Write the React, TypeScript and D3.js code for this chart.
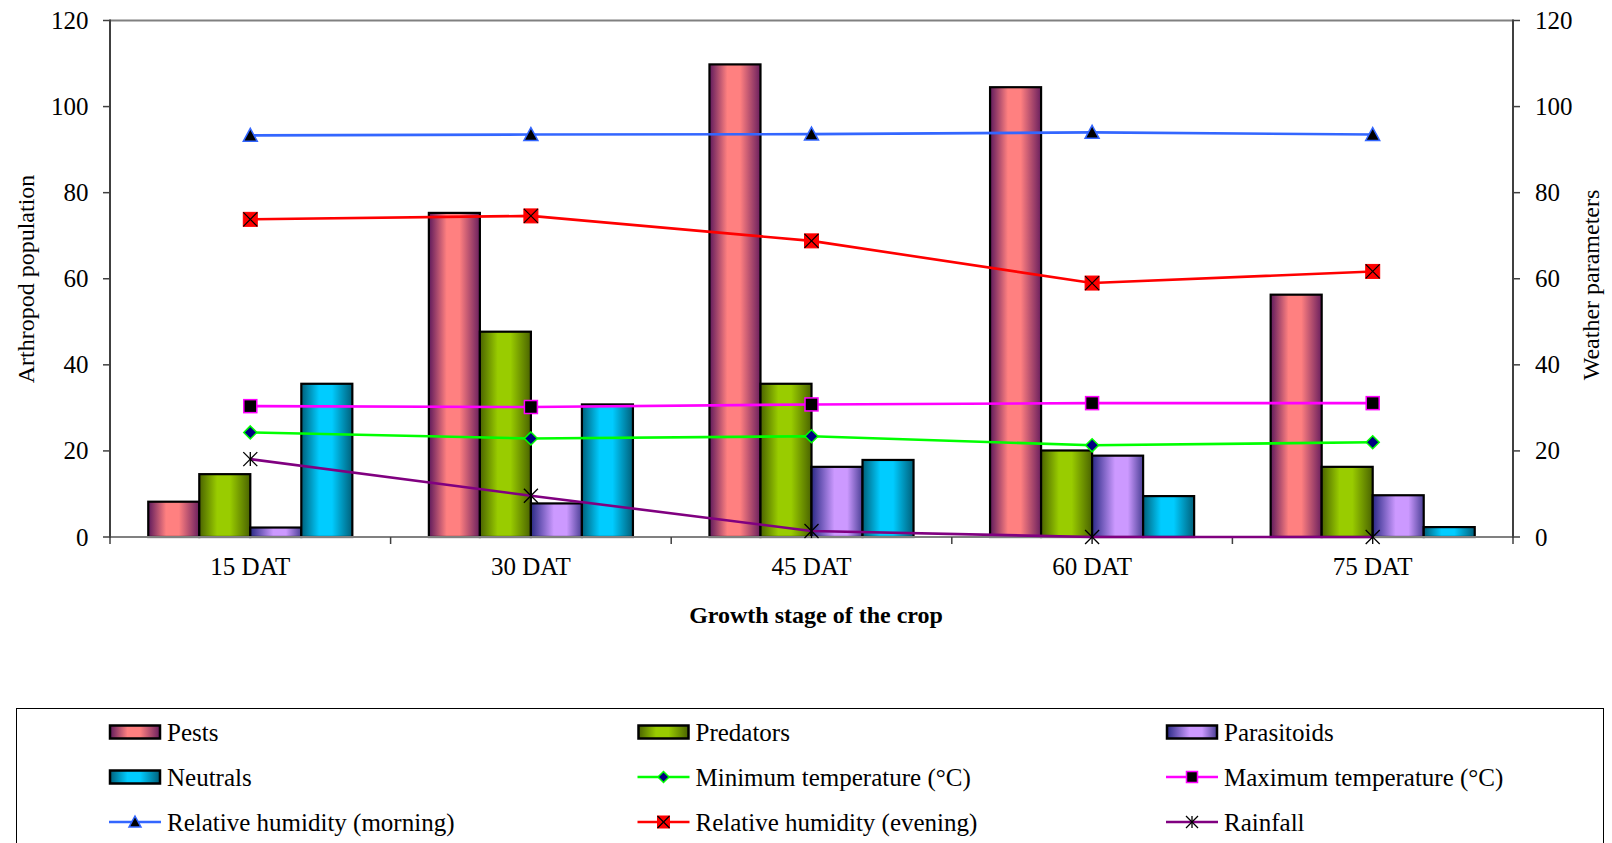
import React from "react";
import * as d3 from "d3";

const categories = ["15 DAT", "30 DAT", "45 DAT", "60 DAT", "75 DAT"];
const pests = [8.2, 75.3, 109.8, 104.5, 56.3];
const predators = [14.6, 47.7, 35.6, 20.1, 16.3];
const parasitoids = [2.2, 7.8, 16.3, 18.9, 9.7];
const neutrals = [35.6, 30.8, 17.9, 9.5, 2.3];
const minTemp = [24.3, 22.9, 23.4, 21.3, 22.0];
const maxTemp = [30.4, 30.2, 30.8, 31.1, 31.1];
const rhMorning = [93.3, 93.5, 93.6, 94.0, 93.5];
const rhEvening = [73.8, 74.6, 68.8, 59.0, 61.7];
const rainfall = [18.1, 9.6, 1.4, 0, 0];
const yTicks = [0, 20, 40, 60, 80, 100, 120];

const W = 1612;
const H = 843;
const L = 110;
const R = 1513;
const T = 20.5;
const B = 537;
const FONT = "'Liberation Serif', 'Times New Roman', serif";

type BarSeries = { name: string; values: number[]; id: string; stops: [number, string][] };
type LineSeries = { name: string; values: number[]; color: string; marker: string };

const barSeries: BarSeries[] = [
  { name: "Pests", values: pests, id: "gPests", stops: [[0, "#5e1a5c"], [0.35, "#ff8080"], [0.6, "#ff8080"], [1, "#6a1f5e"]] },
  { name: "Predators", values: predators, id: "gPred", stops: [[0, "#4a6300"], [0.35, "#99cc00"], [0.6, "#99cc00"], [1, "#4a6300"]] },
  { name: "Parasitoids", values: parasitoids, id: "gPara", stops: [[0, "#2a2a85"], [0.45, "#cc99ff"], [0.7, "#cc99ff"], [1, "#4a3f95"]] },
  { name: "Neutrals", values: neutrals, id: "gNeut", stops: [[0, "#005f7a"], [0.35, "#00ccff"], [0.6, "#00ccff"], [1, "#005f7a"]] },
];

const lineSeries: LineSeries[] = [
  { name: "Minimum temperature (°C)", values: minTemp, color: "#00ff00", marker: "diamond" },
  { name: "Maximum temperature (°C)", values: maxTemp, color: "#ff00ff", marker: "square" },
  { name: "Relative humidity (morning)", values: rhMorning, color: "#3366ff", marker: "triangle" },
  { name: "Relative humidity (evening)", values: rhEvening, color: "#ff0000", marker: "xsquare" },
  { name: "Rainfall", values: rainfall, color: "#800080", marker: "star" },
];

function Marker({ type, x, y, color, s = 7 }: { type: string; x: number; y: number; color: string; s?: number }) {
  if (type === "triangle") {
    return <polygon points={`${x},${y - s} ${x + s},${y + s * 0.85} ${x - s},${y + s * 0.85}`} fill="#000" stroke={color} strokeWidth={1.5} />;
  }
  if (type === "xsquare") {
    return (
      <g>
        <rect x={x - s} y={y - s} width={2 * s} height={2 * s} fill="#ff0000" stroke="#ff0000" strokeWidth={1} />
        <line x1={x - s} y1={y - s} x2={x + s} y2={y + s} stroke="#000" strokeWidth={1.2} />
        <line x1={x - s} y1={y + s} x2={x + s} y2={y - s} stroke="#000" strokeWidth={1.2} />
      </g>
    );
  }
  if (type === "square") {
    return <rect x={x - s + 0.5} y={y - s + 0.5} width={2 * s - 1} height={2 * s - 1} fill="#000" stroke={color} strokeWidth={1.5} />;
  }
  if (type === "diamond") {
    const d = s - 0.5;
    return <polygon points={`${x},${y - d} ${x + d},${y} ${x},${y + d} ${x - d},${y}`} fill="#000080" stroke={color} strokeWidth={1.5} />;
  }
  return (
    <g stroke="#000" strokeWidth={1.3}>
      <line x1={x - s} y1={y - s} x2={x + s} y2={y + s} />
      <line x1={x - s} y1={y + s} x2={x + s} y2={y - s} />
      <line x1={x} y1={y - s} x2={x} y2={y + s} />
    </g>
  );
}

export default function App() {
  const x = d3.scaleBand<string>().domain(categories).range([L, R]).paddingInner(0).paddingOuter(0);
  const inner = d3.scaleBand<string>().domain(barSeries.map((b) => b.name)).range([0, x.bandwidth()]).paddingInner(0).paddingOuter(0.75);
  const y = d3.scaleLinear().domain([0, 120]).range([B, T]);
  const y2 = d3.scaleLinear().domain([0, 120]).range([B, T]);
  const cx = (c: string) => (x(c) as number) + x.bandwidth() / 2;
  const lineGen = d3
    .line<number>()
    .x((_, i) => cx(categories[i]))
    .y((v) => y2(v));

  const legendItems: { kind: "bar" | "line"; bar?: BarSeries; line?: LineSeries }[] = [
    { kind: "bar", bar: barSeries[0] },
    { kind: "bar", bar: barSeries[1] },
    { kind: "bar", bar: barSeries[2] },
    { kind: "bar", bar: barSeries[3] },
    { kind: "line", line: lineSeries[0] },
    { kind: "line", line: lineSeries[1] },
    { kind: "line", line: lineSeries[2] },
    { kind: "line", line: lineSeries[3] },
    { kind: "line", line: lineSeries[4] },
  ];
  const legCols = [109, 637.5, 1166];
  const legRows = [732, 777, 822];
  const swW = 52;

  return (
    <svg width={W} height={H} style={{ position: "absolute", left: 0, top: 0, background: "#fff" }} fontFamily={FONT}>
      <defs>
        {barSeries.map((b) => (
          <linearGradient key={b.id} id={b.id} x1="0" y1="0" x2="1" y2="0">
            {b.stops.map(([o, c], i) => (
              <stop key={i} offset={o} stopColor={c} />
            ))}
          </linearGradient>
        ))}
      </defs>
      <rect x={0} y={0} width={W} height={H} fill="#fff" />

      {barSeries.map((b) =>
        b.values.map((v, i) => {
          const x0 = (x(categories[i]) as number) + (inner(b.name) as number);
          return (
            <rect
              key={b.name + i}
              x={x0}
              y={y(v)}
              width={inner.bandwidth()}
              height={B - y(v)}
              fill={`url(#${b.id})`}
              stroke="#000"
              strokeWidth={2.2}
            />
          );
        })
      )}

      <line x1={L} y1={T} x2={R} y2={T} stroke="#808080" strokeWidth={2} />
      <line x1={L} y1={B} x2={R} y2={B} stroke="#808080" strokeWidth={2} />
      <line x1={L} y1={T - 1} x2={L} y2={B + 1} stroke="#404040" strokeWidth={2} />
      <line x1={R} y1={T - 1} x2={R} y2={B + 1} stroke="#404040" strokeWidth={2} />

      {yTicks.map((t) => (
        <g key={"l" + t}>
          <line x1={L - 7} y1={y(t)} x2={L} y2={y(t)} stroke="#404040" strokeWidth={1.5} />
          <text x={88.5} y={y(t) + 8.5} textAnchor="end" fontSize={25} fill="#000">
            {t}
          </text>
        </g>
      ))}
      {yTicks.map((t) => (
        <g key={"r" + t}>
          <line x1={R} y1={y2(t)} x2={R + 7} y2={y2(t)} stroke="#404040" strokeWidth={1.5} />
          <text x={1535} y={y2(t) + 8.5} textAnchor="start" fontSize={25} fill="#000">
            {t}
          </text>
        </g>
      ))}

      {categories.map((c) => (
        <line key={"xt" + c} x1={x(c) as number} y1={B} x2={x(c) as number} y2={B + 7} stroke="#404040" strokeWidth={1.5} />
      ))}
      <line x1={R} y1={B} x2={R} y2={B + 7} stroke="#404040" strokeWidth={1.5} />
      {categories.map((c) => (
        <text key={"xl" + c} x={cx(c)} y={575} textAnchor="middle" fontSize={25} fill="#000">
          {c}
        </text>
      ))}

      {lineSeries.map((s) => (
        <path key={"p" + s.name} d={lineGen(s.values) || ""} fill="none" stroke={s.color} strokeWidth={2.6} />
      ))}
      {lineSeries.map((s) =>
        s.values.map((v, i) => <Marker key={s.name + "m" + i} type={s.marker} x={cx(categories[i])} y={y2(v)} color={s.color} />)
      )}

      <text x={816} y={623} textAnchor="middle" fontSize={24} fontWeight="bold" fill="#000">
        Growth stage of the crop
      </text>
      <text transform="translate(33.5,279) rotate(-90)" textAnchor="middle" fontSize={24} fill="#000">
        Arthropod population
      </text>
      <text transform="translate(1599,285) rotate(-90)" textAnchor="middle" fontSize={24} fill="#000">
        Weather parameters
      </text>

      <rect x={16.5} y={708.5} width={1587} height={150} fill="none" stroke="#000" strokeWidth={1} />
      {legendItems.map((it, k) => {
        const lx = legCols[k % 3];
        const ly = legRows[Math.floor(k / 3)];
        const name = it.kind === "bar" ? it.bar!.name : it.line!.name;
        return (
          <g key={"lg" + k}>
            {it.kind === "bar" ? (
              <rect x={lx + 1} y={ly - 6.5} width={swW - 2} height={13} fill={`url(#${it.bar!.id})`} stroke="#000" strokeWidth={2.5} />
            ) : (
              <g>
                <line x1={lx} y1={ly} x2={lx + swW} y2={ly} stroke={it.line!.color} strokeWidth={2.6} />
                <Marker type={it.line!.marker} x={lx + swW / 2} y={ly} color={it.line!.color} s={6} />
              </g>
            )}
            <text x={lx + 58} y={ly + 8.5} fontSize={25} fill="#000">
              {name}
            </text>
          </g>
        );
      })}
    </svg>
  );
}
